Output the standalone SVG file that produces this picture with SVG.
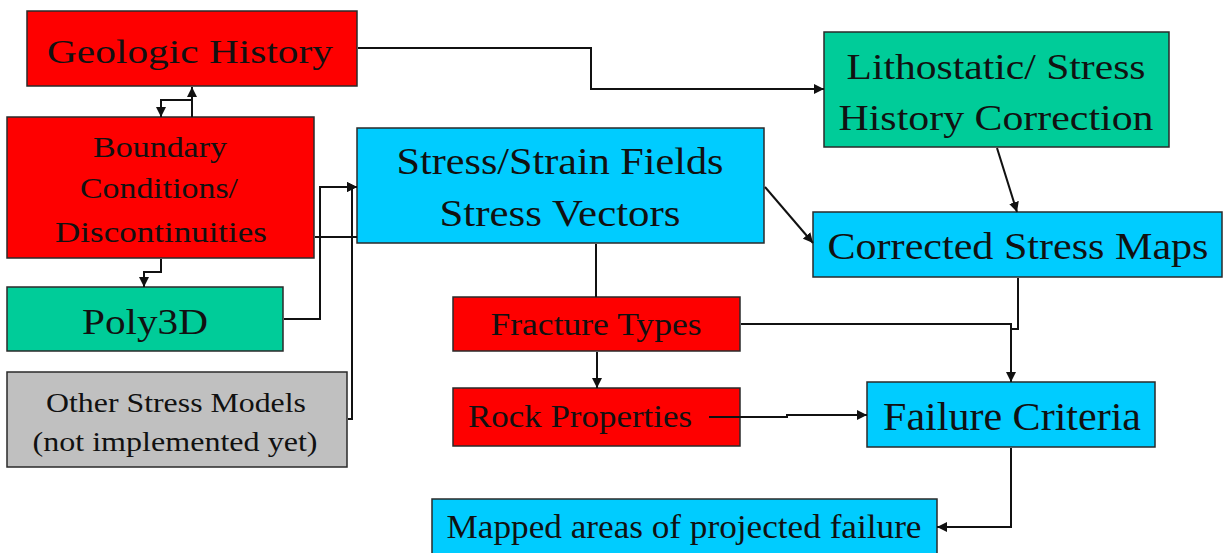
<svg xmlns="http://www.w3.org/2000/svg" width="1226" height="553" viewBox="0 0 1226 553">
<defs>
<marker id="ah" viewBox="0 0 10 10" refX="10" refY="5" markerWidth="10" markerHeight="10" markerUnits="userSpaceOnUse" orient="auto">
<path d="M0,0 L10,5 L0,10 Z" fill="#111"/>
</marker>
<style>
.box{stroke:#2a2a2a;stroke-width:1.5}
.red{fill:#fe0000}
.grn{fill:#00cc99}
.cyn{fill:#00ccff}
.gry{fill:#c0c0c0}
text{font-family:"Liberation Serif","Times New Roman",serif;fill:#111}
.c path{fill:none;stroke:#111;stroke-width:2}
.a{marker-end:url(#ah)}
</style>
</defs>
<rect width="1226" height="553" fill="#ffffff"/>
<g id="geologic-history">
<rect class="box red" x="27" y="11" width="330" height="75"/>
<text x="190" y="63" font-size="33" text-anchor="middle" textLength="286" lengthAdjust="spacingAndGlyphs">Geologic History</text>
</g>
<g id="boundary-conditions">
<rect class="box red" x="7" y="117" width="307" height="141"/>
<text x="160" y="157" font-size="29" text-anchor="middle" textLength="134" lengthAdjust="spacingAndGlyphs">Boundary</text>
<text x="159" y="198" font-size="29" text-anchor="middle" textLength="158" lengthAdjust="spacingAndGlyphs">Conditions/</text>
<text x="161" y="242" font-size="29" text-anchor="middle" textLength="212" lengthAdjust="spacingAndGlyphs">Discontinuities</text>
</g>
<g id="poly3d">
<rect class="box grn" x="7" y="287" width="276" height="64"/>
<text x="145" y="334" font-size="36" text-anchor="middle" textLength="126" lengthAdjust="spacingAndGlyphs">Poly3D</text>
</g>
<g id="other-stress-models">
<rect class="box gry" x="7" y="372" width="340" height="95"/>
<text x="176" y="412" font-size="28" text-anchor="middle" textLength="260" lengthAdjust="spacingAndGlyphs">Other Stress Models</text>
<text x="175" y="451" font-size="28" text-anchor="middle" textLength="285" lengthAdjust="spacingAndGlyphs">(not implemented yet)</text>
</g>
<g id="stress-strain-fields">
<rect class="box cyn" x="357" y="128" width="407" height="115"/>
<text x="560" y="174" font-size="38" text-anchor="middle" textLength="327" lengthAdjust="spacingAndGlyphs">Stress/Strain Fields</text>
<text x="560" y="226" font-size="38" text-anchor="middle" textLength="241" lengthAdjust="spacingAndGlyphs">Stress Vectors</text>
</g>
<g id="lithostatic-correction">
<rect class="box grn" x="824" y="32" width="345" height="115"/>
<text x="996" y="79" font-size="36" text-anchor="middle" textLength="299" lengthAdjust="spacingAndGlyphs">Lithostatic/ Stress</text>
<text x="996" y="130" font-size="36" text-anchor="middle" textLength="315" lengthAdjust="spacingAndGlyphs">History Correction</text>
</g>
<g id="corrected-stress-maps">
<rect class="box cyn" x="813" y="212" width="409" height="65"/>
<text x="1018" y="259" font-size="38" text-anchor="middle" textLength="381" lengthAdjust="spacingAndGlyphs">Corrected Stress Maps</text>
</g>
<g id="fracture-types">
<rect class="box red" x="453" y="297" width="287" height="54"/>
<text x="596" y="335" font-size="31" text-anchor="middle" textLength="211" lengthAdjust="spacingAndGlyphs">Fracture Types</text>
</g>
<g id="rock-properties">
<rect class="box red" x="453" y="388" width="287" height="58"/>
<text x="580" y="427" font-size="31" text-anchor="middle" textLength="224" lengthAdjust="spacingAndGlyphs">Rock Properties</text>
</g>
<g id="failure-criteria">
<rect class="box cyn" x="867" y="382" width="288" height="65"/>
<text x="1012" y="430" font-size="40" text-anchor="middle" textLength="258" lengthAdjust="spacingAndGlyphs">Failure Criteria</text>
</g>
<g id="mapped-areas">
<rect class="box cyn" x="432" y="499" width="505" height="62"/>
<text x="684" y="538" font-size="33" text-anchor="middle" textLength="475" lengthAdjust="spacingAndGlyphs">Mapped areas of projected failure</text>
</g>
<g class="c" id="connectors">
<path class="a" d="M358,48 H591 V89 H824"/>
<path class="a" d="M192,117 V87"/>
<path class="a" d="M192,100 H161 V117"/>
<path class="a" d="M161,259 V272 H144 V287"/>
<path class="a" d="M284,319 H320 V187 H357"/>
<path d="M315,237 H357"/>
<path class="a" d="M348,419 H352 V187 H357"/>
<path class="a" d="M765,187 L813,243"/>
<path class="a" d="M997,148 L1017,212"/>
<path d="M596,244 V297"/>
<path class="a" d="M597,352 V388"/>
<path class="a" d="M741,324 H1011 V382"/>
<path d="M1018,278 V329 H1011"/>
<path class="a" d="M709,417 H787 V415 H867"/>
<path class="a" d="M1011,448 V527 H937"/>
</g>
</svg>
